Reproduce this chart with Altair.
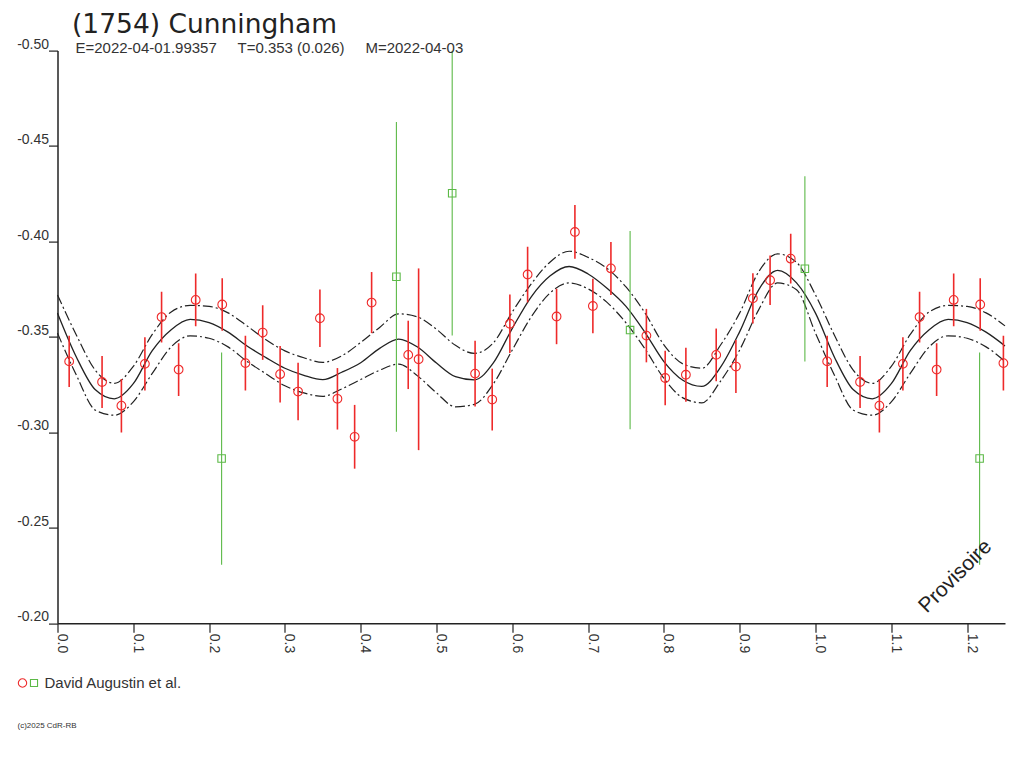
import pandas as pd
import altair as alt

red_phase = [0.0154, 0.0588, 0.0843, 0.1153, 0.1373, 0.1598, 0.1823, 0.2173, 0.2479, 0.2707,
             0.2937, 0.3174, 0.3462, 0.3693, 0.3920, 0.4144, 0.4627, 0.4764, 0.5509, 0.5735,
             0.5968, 0.6202, 0.6584, 0.6826, 0.7063, 0.7301, 0.7769, 0.8017, 0.8290, 0.8690,
             0.8950, 0.9174, 0.9401, 0.9673]
red_mag = [-0.3372, -0.3264, -0.3140, -0.3359, -0.3604, -0.3329, -0.3694, -0.3670, -0.3363, -0.3523,
           -0.3305, -0.3214, -0.3598, -0.3176, -0.2977, -0.3680, -0.3406, -0.3383, -0.3308, -0.3172,
           -0.3569, -0.3827, -0.3607, -0.4050, -0.3662, -0.3859, -0.3507, -0.3285, -0.3302, -0.3406,
           -0.3345, -0.3702, -0.3797, -0.3910]
red_err = [0.0134, 0.0136, 0.0140, 0.0139, 0.0133, 0.0138, 0.0138, 0.0138, 0.0143, 0.0143,
           0.0148, 0.0151, 0.0151, 0.0161, 0.0167, 0.0160, 0.0179, 0.0476, 0.0172, 0.0162,
           0.0153, 0.0146, 0.0145, 0.0141, 0.0143, 0.0139, 0.0140, 0.0143, 0.0142, 0.0138,
           0.0139, 0.0132, 0.0130, 0.0130]

green_phase = [0.2165, 0.4471, 0.5207, 0.7554, 0.9860]
green_mag = [-0.2863, -0.3815, -0.4253, -0.3536, -0.3857]
green_err = [0.0556, 0.0811, 0.0746, 0.0519, 0.0485]

# --- fitted curve and its envelope ---
fit_phase = [0.000, 0.025, 0.050, 0.075, 0.100, 0.125, 0.150, 0.175, 0.200, 0.225,
             0.250, 0.275, 0.300, 0.325, 0.350, 0.375, 0.400, 0.425, 0.450, 0.475,
             0.500, 0.525, 0.550, 0.575, 0.600, 0.625, 0.650, 0.675, 0.700, 0.725,
             0.750, 0.775, 0.800, 0.825, 0.850, 0.875, 0.900, 0.925, 0.950, 0.975]
fit_mid = [-0.3625, -0.3394, -0.3223, -0.3176, -0.3255, -0.3428, -0.3538, -0.3592, -0.3575, -0.3525,
           -0.3453, -0.3392, -0.3336, -0.3299, -0.3276, -0.3315, -0.3365, -0.3440, -0.3489, -0.3447,
           -0.3363, -0.3292, -0.3275, -0.3364, -0.3545, -0.3710, -0.3820, -0.3869, -0.3830, -0.3755,
           -0.3660, -0.3524, -0.3371, -0.3273, -0.3241, -0.3343, -0.3528, -0.3747, -0.3849, -0.3783]
fit_upper = [-0.3720, -0.3509, -0.3325, -0.3257, -0.3346, -0.3513, -0.3631, -0.3665, -0.3660, -0.3626,
             -0.3558, -0.3485, -0.3427, -0.3391, -0.3367, -0.3401, -0.3471, -0.3550, -0.3621, -0.3605,
             -0.3540, -0.3456, -0.3414, -0.3469, -0.3631, -0.3778, -0.3893, -0.3949, -0.3917, -0.3859,
             -0.3762, -0.3626, -0.3459, -0.3359, -0.3336, -0.3459, -0.3626, -0.3841, -0.3935, -0.3891]
fit_lower = [-0.3520, -0.3299, -0.3116, -0.3090, -0.3160, -0.3309, -0.3448, -0.3506, -0.3493, -0.3448,
             -0.3372, -0.3307, -0.3244, -0.3207, -0.3189, -0.3228, -0.3277, -0.3326, -0.3358, -0.3296,
             -0.3207, -0.3134, -0.3147, -0.3254, -0.3432, -0.3605, -0.3731, -0.3783, -0.3752, -0.3681,
             -0.3574, -0.3438, -0.3283, -0.3181, -0.3155, -0.3270, -0.3432, -0.3642, -0.3783, -0.3747]

x_ticks = [0.0, 0.05, 0.1, 0.15, 0.2, 0.25, 0.3, 0.35, 0.4, 0.45, 0.5, 0.55, 0.6,
           0.65, 0.7, 0.75, 0.8, 0.85, 0.9, 0.95, 1.0, 1.05, 1.1, 1.15, 1.2, 1.25]
y_ticks = [-0.50, -0.45, -0.40, -0.35, -0.30, -0.25, -0.20]

title = "(1754) Cunningham"
subtitle = "\u00a0\u00a0\u00a0\u00a0\u00a0".join(["E=2022-04-01.99357", "T=0.353 (0.026)", "M=2022-04-03"])
observer = "David Augustin et al."
credit = "(c)2025 CdR-RB"

FONT = "Liberation Sans"
RED = "#ee2a2a"
GREEN = "#5cb947"
INK = "#222222"


def wrap(df, limit=0.25):
    # phase plot shows 1.25 cycles: repeat the start of the cycle after 1.0
    extra = df[df["phase"] <= limit].copy()
    extra["phase"] = extra["phase"] + 1
    return pd.concat([df, extra], ignore_index=True)


pts = wrap(pd.DataFrame({
    "phase": red_phase + green_phase,
    "mag": red_mag + green_mag,
    "err": red_err + green_err,
    "set": ["red"] * len(red_phase) + ["green"] * len(green_phase),
}))
pts["lo"] = pts["mag"] - pts["err"]
pts["hi"] = pts["mag"] + pts["err"]
red_pts = pts[pts["set"] == "red"]
green_pts = pts[pts["set"] == "green"]

fit = wrap(pd.DataFrame({"phase": fit_phase, "mid": fit_mid,
                         "upper": fit_upper, "lower": fit_lower}))

xs = alt.Scale(domain=[0, 1.25], nice=False, zero=False)
ys = alt.Scale(domain=[-0.5, -0.2], reverse=True, nice=False, zero=False)

x_axis = alt.Axis(title=None, values=x_ticks, grid=False,
                  labelExpr="abs(datum.value * 10 - round(datum.value * 10)) < 0.001 ? format(datum.value, '.1f') : ''",
                  labelAngle=90, labelAlign="left", labelBaseline="alphabetic",
                  labelPadding=1, labelFlush=False, labelOverlap=False, tickSize=9)
y_axis = alt.Axis(title=None, values=y_ticks, grid=False,
                  labelExpr="replace(format(datum.value, '.2f'), '\u2212', '-')",
                  labelAlign="right", labelBaseline="alphabetic", labelOffset=-2.4,
                  labelPadding=0, tickSize=9)

mid_line = alt.Chart(fit).mark_line(color=INK, strokeWidth=1.3, interpolate="monotone").encode(
    x=alt.X("phase:Q", scale=xs, axis=x_axis),
    y=alt.Y("mid:Q", scale=ys, axis=y_axis),
)
up_line = alt.Chart(fit).mark_line(color=INK, strokeWidth=1.2, strokeDash=[10, 3, 2, 3],
                                   interpolate="monotone").encode(x="phase:Q", y="upper:Q")
low_line = alt.Chart(fit).mark_line(color=INK, strokeWidth=1.2, strokeDash=[10, 3, 2, 3],
                                    interpolate="monotone").encode(x="phase:Q", y="lower:Q")

red_bars = alt.Chart(red_pts).mark_rule(color=RED, strokeWidth=1.6, clip=True).encode(
    x="phase:Q", y="lo:Q", y2="hi:Q")
green_bars = alt.Chart(green_pts).mark_rule(color=GREEN, strokeWidth=1.1, clip=True).encode(
    x="phase:Q", y="lo:Q", y2="hi:Q")
red_dots = alt.Chart(red_pts).mark_point(shape="circle", filled=False, color=RED,
                                         size=76, strokeWidth=1.1, opacity=1).encode(
    x="phase:Q", y="mag:Q")
green_dots = alt.Chart(green_pts).mark_point(shape="square", filled=False, color=GREEN,
                                             size=56, strokeWidth=1.1, opacity=1).encode(
    x="phase:Q", y="mag:Q")

one = pd.DataFrame({"k": [0]})
title_txt = alt.Chart(one).mark_text(text=title, font="DejaVu Sans", fontSize=26.5, color=INK,
                                     align="left", baseline="alphabetic").encode(
    x=alt.value(14.5), y=alt.value(-17.5))
sub_txt = alt.Chart(one).mark_text(text=subtitle, font=FONT, fontSize=15, color="#333333",
                                   align="left", baseline="alphabetic").encode(
    x=alt.value(18), y=alt.value(2.7))
leg_circle = alt.Chart(one).mark_point(shape="circle", filled=False, color=RED, size=70,
                                       strokeWidth=1.1, opacity=1).encode(
    x=alt.value(-35), y=alt.value(632.4))
leg_square = alt.Chart(one).mark_point(shape="square", filled=False, color=GREEN, size=50,
                                       strokeWidth=1.1, opacity=1).encode(
    x=alt.value(-23.5), y=alt.value(632.4))
leg_txt = alt.Chart(one).mark_text(text=observer, font=FONT, fontSize=15, color="#333333",
                                   align="left", baseline="alphabetic").encode(
    x=alt.value(-13), y=alt.value(637.4))
credit_txt = alt.Chart(one).mark_text(text=credit, font=FONT, fontSize=8, color="#333333",
                                      align="left", baseline="alphabetic").encode(
    x=alt.value(-40), y=alt.value(677.5))
stamp = alt.Chart(one).mark_text(text="Provisoire", font=FONT, fontSize=21, color=INK,
                                 angle=315, align="center", baseline="middle").encode(
    x=alt.value(898), y=alt.value(526))

chart = alt.layer(
    mid_line, up_line, low_line, green_bars, red_bars, green_dots, red_dots,
    title_txt, sub_txt, leg_circle, leg_square, leg_txt, credit_txt, stamp,
).properties(
    width=947.5, height=572.7,
    autosize=alt.AutoSizeParams(type="none"),
    padding={"left": 49.5, "top": 42.6, "right": 11, "bottom": 130},
).configure_view(stroke=None).configure_axis(
    labelFont=FONT, labelFontSize=14, labelColor="#333333",
    domainColor=INK, domainWidth=1.5, tickColor=INK, tickWidth=1.2,
)

chart.save("out.html", embed_options={"renderer": "svg", "actions": False})
